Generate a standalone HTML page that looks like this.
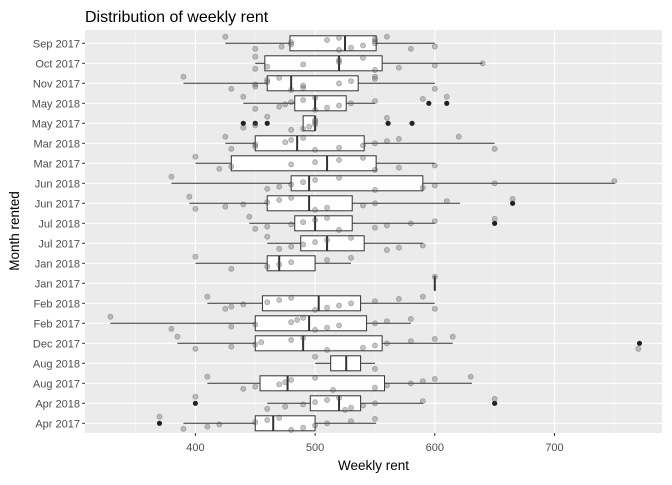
<!DOCTYPE html>
<html><head><meta charset="utf-8"><style>
body{margin:0;background:#fff;}
svg text{font-family:"Liberation Sans",sans-serif;}
</style></head><body>
<svg id="chart" width="672" height="480"></svg>
<script>
const categories=["Sep 2017","Oct 2017","Nov 2017","May 2018","May 2017","Mar 2018","Mar 2017","Jun 2018","Jun 2017","Jul 2018","Jul 2017","Jan 2018","Jan 2017","Feb 2018","Feb 2017","Dec 2017","Aug 2018","Aug 2017","Apr 2018","Apr 2017"];
const whiskerLow=[425,450,390,440,490,425,400,380,395,445,460,400,600,410,329,385,500,410,460,390];
const q1=[479,458,460,483,490,450,430,480,460,483,488,460,600,456,450,450,513,454,496,450];
const medians=[525,520,480,500,500,485,510,495,495,500,510,470,600,503,495,490,526,477,520,465];
const q3=[551,556,536,526,500,541,551,590,531,531,541,500,600,538,543,556,538,558,538,500];
const whiskerHigh=[600,640,600,550,500,650,600,750,621,600,590,530,600,600,580,615,550,631,590,551];
const outliers=[[],[],[],[595,610],[440,450,460,561,581],[],[],[],[665],[650],[],[],[],[],[],[771],[],[],[400,650],[370]];
const points=[
[425,450,472,480,480,510,520,520,530,540,550,550,550,560,580,600],
[450,450,460,490,520,520,540,550,570,600,640],
[390,430,450,450,460,460,470,480,490,490,520,530,550,550,600],
[440,450,470,475,480,490,500,500,510,520,530,550,590,610],
[460,490,495,500,500,500,560,480,440,450],
[425,430,450,450,475,480,490,500,520,540,550,560,570,620,650],
[400,420,430,480,500,520,540,550,570,600],
[380,460,470,480,490,500,520,550,590,600,650,750],
[395,400,425,440,460,470,480,500,510,540,550,610,665],
[445,450,460,480,490,500,510,520,550,560,580,600,650],
[460,470,480,490,500,510,530,560,570,590],
[400,430,460,470,480,510,530],
[600],
[410,425,430,440,460,470,480,500,510,520,530,550,570,590,600],
[329,380,430,450,480,485,490,500,510,520,550,560,580],
[385,400,430,450,455,480,490,510,540,550,560,580,600,615,770],
[500,550],
[410,440,450,470,475,480,500,515,550,560,580,590,600,630],
[400,460,475,490,500,510,520,525,530,540,550,590,650],
[370,390,410,420,450,460,470,480,490,500,510,530,550]];
const xTicks=[400,500,600,700];
const xMinor=[350,450,550,650,750];

const NS="http://www.w3.org/2000/svg";
const svg=document.getElementById('chart');
const L=85,R=662,T=30,B=433;
const x=v=>195.4+(v-400)*1.197;
const y=i=>43.3+20*i;
function el(tag,attrs,parent){const e=document.createElementNS(NS,tag);for(const k in attrs)e.setAttribute(k,attrs[k]);(parent||svg).appendChild(e);return e;}

const panel=el('rect',{x:L,y:T,width:R-L,height:B-T,fill:'#ebebeb'});


xMinor.forEach(v=>{const g=el('line',{x1:x(v),x2:x(v),y1:T,y2:B,stroke:'#f5f5f5','stroke-width':0.6});

});
xTicks.forEach(v=>{const g=el('line',{x1:x(v),x2:x(v),y1:T,y2:B,stroke:'#fff','stroke-width':1.1});


const t=el('text',{x:x(v),y:451,'font-size':11,fill:'#4d4d4d','text-anchor':'middle'});t.textContent=v;


el('line',{x1:x(v),x2:x(v),y1:B,y2:B+3,stroke:'#333'});});
categories.forEach((c,i)=>{const g=el('line',{x1:L,x2:R,y1:y(i),y2:y(i),stroke:'#fff','stroke-width':1.1});


el('line',{x1:L-3,x2:L,y1:y(i),y2:y(i),stroke:'#333'});
const t=el('text',{x:L-5,y:y(i)+4,'font-size':11,fill:'#4d4d4d','text-anchor':'end'});t.textContent=c;

});

categories.forEach((c,i)=>{
 const g=el('g',{});
 
 
 el('line',{x1:x(whiskerLow[i]),x2:x(q1[i]),y1:y(i),y2:y(i),stroke:'#333','stroke-width':1},g);
 el('line',{x1:x(q3[i]),x2:x(whiskerHigh[i]),y1:y(i),y2:y(i),stroke:'#333','stroke-width':1},g);
 el('rect',{x:x(q1[i]),y:y(i)-7.5,width:Math.max(0,x(q3[i])-x(q1[i])),height:15,fill:'#fff',stroke:'#333','stroke-width':1},g);
 el('line',{x1:x(medians[i]),x2:x(medians[i]),y1:y(i)-7.5,y2:y(i)+7.5,stroke:'#333','stroke-width':2},g);
 outliers[i].forEach(v=>{const o=el('circle',{cx:x(v),cy:y(i),r:2.6,fill:'#222'},g);
 
 });
});
points.forEach((arr,i)=>{arr.forEach((v,j)=>{
 const off=((j*37+i*13)%13-6)*1.1;
 const p=el('circle',{cx:x(v),cy:y(i)+off,r:2.6,fill:'rgba(90,90,90,0.35)',stroke:'rgba(60,60,60,0.4)','stroke-width':0.6});
 
 });});

const ti=el('text',{x:85,y:22,'font-size':16,fill:'#000'});ti.textContent='Distribution of weekly rent';


const xl=el('text',{x:(L+R)/2,y:470,'font-size':13.5,fill:'#000','text-anchor':'middle'});xl.textContent='Weekly rent';


const yl=el('text',{x:0,y:0,'font-size':13.5,fill:'#000','text-anchor':'middle',transform:'translate(19,231) rotate(-90)'});yl.textContent='Month rented';


</script>
</body></html>
